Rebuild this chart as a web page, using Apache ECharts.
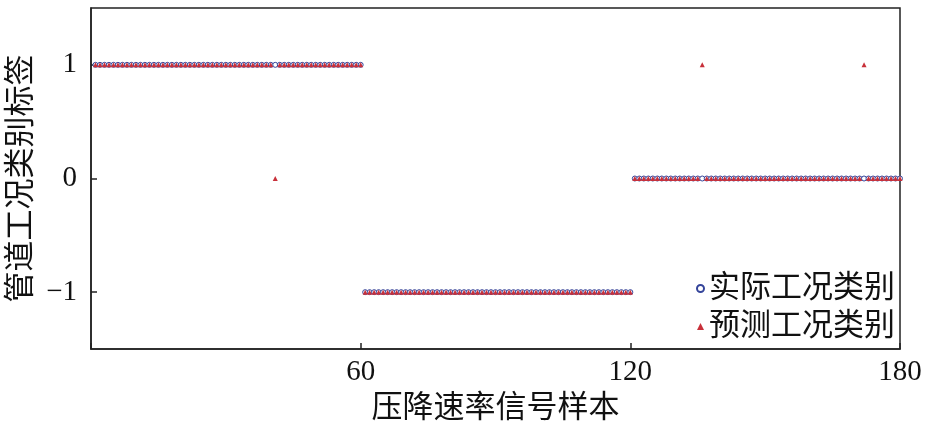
<!DOCTYPE html>
<html>
<head>
<meta charset="utf-8">
<script src="https://cdn.jsdelivr.net/npm/echarts@6/dist/echarts.min.js"></script>
<style>html,body{margin:0;padding:0;background:#fff}#c{width:932px;height:429px}</style>
</head>
<body>
<div id="c"></div>
<script>
const xTicks = [60, 120, 180];
const yTicks = [-1, 0, 1];
const actual = [
  1,1,1,1,1,1,1,1,1,1,1,1,1,1,1,1,1,1,1,1,
  1,1,1,1,1,1,1,1,1,1,1,1,1,1,1,1,1,1,1,1,
  1,1,1,1,1,1,1,1,1,1,1,1,1,1,1,1,1,1,1,1,
  -1,-1,-1,-1,-1,-1,-1,-1,-1,-1,-1,-1,-1,-1,-1,-1,-1,-1,-1,-1,
  -1,-1,-1,-1,-1,-1,-1,-1,-1,-1,-1,-1,-1,-1,-1,-1,-1,-1,-1,-1,
  -1,-1,-1,-1,-1,-1,-1,-1,-1,-1,-1,-1,-1,-1,-1,-1,-1,-1,-1,-1,
  0,0,0,0,0,0,0,0,0,0,0,0,0,0,0,0,0,0,0,0,
  0,0,0,0,0,0,0,0,0,0,0,0,0,0,0,0,0,0,0,0,
  0,0,0,0,0,0,0,0,0,0,0,0,0,0,0,0,0,0,0,0
];
const predicted = [
  1,1,1,1,1,1,1,1,1,1,1,1,1,1,1,1,1,1,1,1,
  1,1,1,1,1,1,1,1,1,1,1,1,1,1,1,1,1,1,1,1,
  0,1,1,1,1,1,1,1,1,1,1,1,1,1,1,1,1,1,1,1,
  -1,-1,-1,-1,-1,-1,-1,-1,-1,-1,-1,-1,-1,-1,-1,-1,-1,-1,-1,-1,
  -1,-1,-1,-1,-1,-1,-1,-1,-1,-1,-1,-1,-1,-1,-1,-1,-1,-1,-1,-1,
  -1,-1,-1,-1,-1,-1,-1,-1,-1,-1,-1,-1,-1,-1,-1,-1,-1,-1,-1,-1,
  0,0,0,0,0,0,0,0,0,0,0,0,0,0,0,1,0,0,0,0,
  0,0,0,0,0,0,0,0,0,0,0,0,0,0,0,0,0,0,0,0,
  0,0,0,0,0,0,0,0,0,0,0,1,0,0,0,0,0,0,0,0
];
const seriesNames = ['实际工况类别', '预测工况类别'];
const xName = '压降速率信号样本';
const yName = '管道工况类别标签';

const FONT = '"Liberation Serif", "Noto Sans CJK SC", serif';
const chart = echarts.init(document.getElementById('c'), null, {renderer: 'canvas'});
chart.setOption({
  backgroundColor: '#fff',
  animation: false,
  grid: {left: 91, right: 32, top: 8, bottom: 80, outerBoundsMode: 'none', containLabel: false,
    show: true, borderColor: '#222', borderWidth: 1.5, backgroundColor: 'transparent'},
  xAxis: {
    type: 'value', min: 0, max: 180, interval: 60,
    name: xName, nameLocation: 'middle', nameGap: 44, nameMoveOverlap: false,
    nameTextStyle: {fontFamily: FONT, fontSize: 31, color: '#111'},
    axisLine: {show: true, onZero: false, lineStyle: {color: '#222', width: 1.5}},
    axisTick: {show: true, inside: true, length: 6, lineStyle: {color: '#222', width: 1.5}},
    axisLabel: {fontFamily: FONT, fontSize: 29, color: '#111', margin: 9,
      formatter: v => xTicks.includes(v) ? String(v) : ''},
    splitLine: {show: false}
  },
  yAxis: {
    type: 'value', min: -1.5, max: 1.5,
    name: yName, nameLocation: 'middle', nameGap: 54, nameMoveOverlap: false,
    nameTextStyle: {fontFamily: FONT, fontSize: 31, color: '#111'},
    axisLine: {show: true, onZero: false, lineStyle: {color: '#222', width: 1.5}},
    axisTick: {show: true, inside: true, length: 6, customValues: yTicks,
      lineStyle: {color: '#222', width: 1.5}},
    axisLabel: {fontFamily: FONT, fontSize: 29, color: '#111', margin: 14,
      customValues: yTicks,
      formatter: v => String(v).replace('-', '\u2212')},
    splitLine: {show: false}
  },
  legend: {
    orient: 'vertical', right: 32, top: 268, itemGap: 7,
    itemWidth: 7, itemHeight: 7,
    textStyle: {fontFamily: FONT, fontSize: 31, color: '#111'},
    data: seriesNames
  },
  series: [
    {
      name: seriesNames[0], type: 'scatter', symbol: 'circle', symbolSize: 5,
      itemStyle: {color: '#ffffff', borderColor: '#34449a', borderWidth: 1, opacity: 1},
      data: actual.map((v, i) => [i + 1, v]), z: 2
    },
    {
      name: seriesNames[1], type: 'scatter', symbol: 'triangle', symbolSize: 5,
      itemStyle: {color: '#c8303a', opacity: 1},
      data: predicted.map((v, i) => [i + 1, v]), z: 3
    }
  ]
});
</script>
</body>
</html>
